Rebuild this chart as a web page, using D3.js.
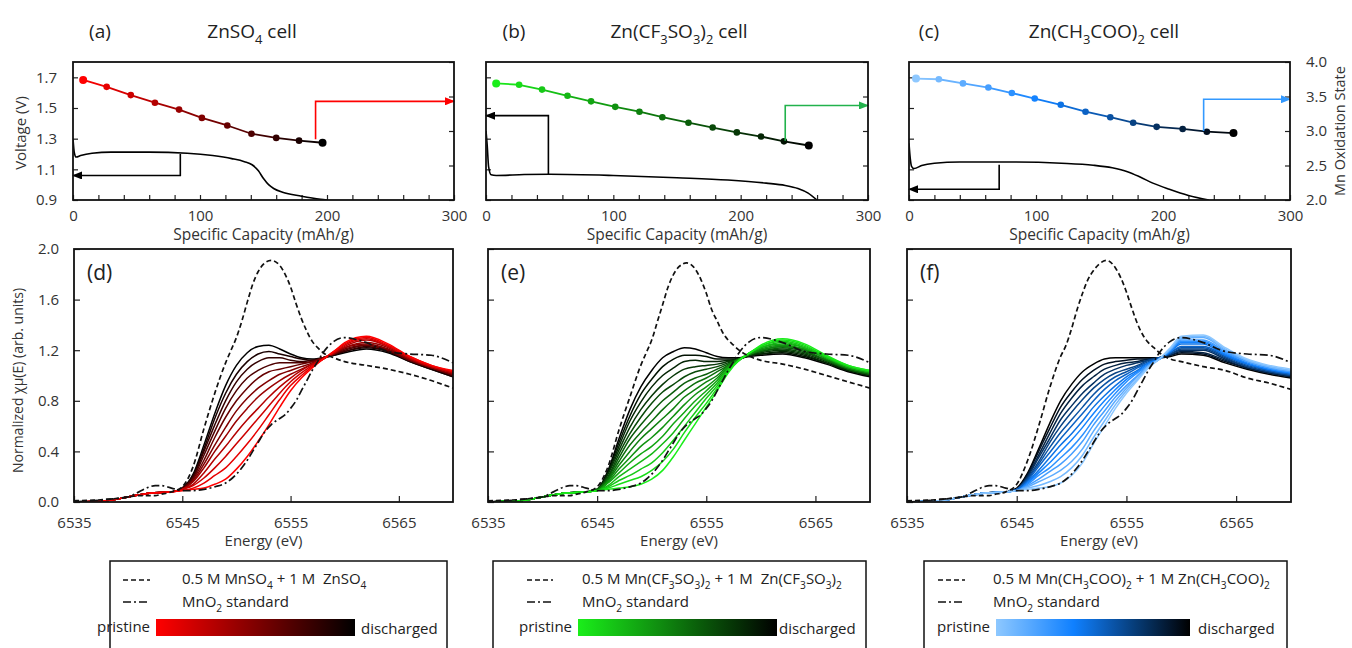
<!DOCTYPE html>
<html>
<head>
<meta charset="utf-8">
<script src="https://cdn.jsdelivr.net/npm/d3@7"></script>
<style>
body{margin:0;background:#fff;}
svg{display:block;}
text{white-space:pre;}
</style>
</head>
<body>
<svg id="fig" width="1352" height="648"></svg>
<script>
// ---- discharge profiles (capacity mAh/g, voltage V) ----
var capA  = [0, 1, 2.5, 6, 15, 30, 60, 90, 110, 125, 135, 141, 146, 150, 154, 158, 165, 180, 195, 200];
var voltA = [1.30, 1.21, 1.18, 1.19, 1.205, 1.212, 1.212, 1.205, 1.19, 1.17, 1.15, 1.13, 1.09, 1.04, 1.0, 0.975, 0.95, 0.925, 0.905, 0.9];
var capB  = [0, 1, 2, 4, 8, 30, 50, 100, 150, 190, 220, 235, 245, 253, 260];
var voltB = [1.35, 1.25, 1.12, 1.065, 1.06, 1.066, 1.068, 1.06, 1.045, 1.03, 1.01, 0.995, 0.975, 0.945, 0.9];
var capC  = [0, 1, 2, 4, 10, 20, 40, 80, 120, 145, 160, 172, 182, 192, 205, 220, 236];
var voltC = [1.27, 1.17, 1.12, 1.105, 1.125, 1.14, 1.148, 1.148, 1.14, 1.127, 1.11, 1.085, 1.05, 1.01, 0.97, 0.93, 0.9];

// ---- Mn oxidation state along discharge ----
var oxCapA = [8, 26.5, 45.5, 64.5, 83.5, 101.5, 121.5, 140.5, 160, 178, 196.5];
var oxA    = [3.74, 3.64, 3.52, 3.41, 3.31, 3.19, 3.08, 2.96, 2.90, 2.86, 2.83];
var oxCapB = [8, 26, 44, 64, 82.5, 101.5, 120.5, 138.5, 159, 178, 197, 216, 234, 253.5];
var oxB    = [3.69, 3.67, 3.60, 3.51, 3.43, 3.35, 3.28, 3.20, 3.12, 3.05, 2.98, 2.92, 2.85, 2.79];
var oxCapC = [5.5, 23.5, 42.5, 62.5, 81, 99, 119.5, 139, 158.5, 176.5, 195, 215.5, 234.5, 255.5];
var oxC    = [3.76, 3.75, 3.69, 3.63, 3.55, 3.47, 3.38, 3.28, 3.20, 3.12, 3.06, 3.03, 2.99, 2.97];

// ---- axis-pointing arrows [capacity, value] ----
var arrowVoltA = [[84.5, 1.20], [84.5, 1.06], [0, 1.06]];
var arrowOxA   = [[191, 2.88], [191, 3.43], [300, 3.43]];
var arrowVoltB = [[49, 1.07], [49, 1.45], [0, 1.45]];
var arrowOxB   = [[235, 2.86], [235, 3.37], [300, 3.37]];
var arrowVoltC = [[71, 1.13], [71, 0.97], [0, 0.97]];
var arrowOxC   = [[232, 3.0], [232, 3.46], [300, 3.46]];

// ---- XANES reference spectra ----
var refEnergy = [6535, 6538, 6540, 6541, 6542, 6542.5, 6543, 6544, 6545, 6546, 6547, 6548, 6549, 6549.5, 6550, 6550.5, 6551, 6551.5, 6552, 6552.5, 6553.2, 6554, 6554.5, 6555, 6555.5, 6556, 6556.5, 6557, 6557.5, 6558, 6559, 6560, 6562, 6564, 6566, 6568, 6570];
var mnso4Sol = [.01,.02,.04,.05,.05,.05,.06,.08,.12,.28,.58,.86,1.10,1.20,1.30,1.43,1.58,1.72,1.82,1.88,1.91,1.87,1.80,1.70,1.57,1.45,1.35,1.27,1.22,1.18,1.14,1.11,1.08,1.05,1.01,0.96,0.90];
var mnCfSol  = [.01,.02,.04,.05,.05,.05,.06,.08,.12,.28,.57,.83,1.08,1.18,1.28,1.42,1.56,1.70,1.80,1.86,1.89,1.84,1.76,1.65,1.52,1.43,1.34,1.28,1.24,1.20,1.15,1.12,1.09,1.05,1.00,0.95,0.90];
var mnAcSol  = [.01,.02,.04,.05,.05,.05,.06,.08,.14,.33,.60,.90,1.15,1.24,1.37,1.52,1.65,1.76,1.83,1.88,1.91,1.85,1.77,1.66,1.53,1.41,1.32,1.26,1.22,1.18,1.13,1.11,1.07,1.04,0.98,0.94,0.89];
var mno2Std  = [.00,.02,.04,.08,.12,.13,.13,.11,.09,.09,.10,.12,.15,.18,.22,.27,.33,.40,.47,.54,.61,.66,.69,.74,.80,.88,.96,1.04,1.11,1.18,1.27,1.30,1.26,1.19,1.17,1.16,1.10];

// ---- operando XANES spectra, pristine first ----
var specEnergy = [6535, 6538, 6540, 6542, 6544, 6545, 6546, 6547, 6548, 6549, 6550, 6551, 6552, 6553, 6554, 6555, 6556, 6557, 6558, 6559, 6560, 6562, 6564, 6566, 6568, 6570];
var znso4Spectra = [
  [0,.01,.04,.07,.08,.09,.10,.11,.14,.18,.26,.36,.48,.61,.75,.88,.98,1.06,1.13,1.19,1.26,1.31,1.25,1.15,1.08,1.04],
  [0,.01,.04,.07,.08,.09,.11,.15,.21,.27,.36,.46,.57,.69,.81,.92,1.00,1.07,1.13,1.19,1.25,1.30,1.24,1.15,1.08,1.03],
  [0,.01,.04,.07,.08,.10,.13,.19,.27,.36,.46,.56,.66,.76,.86,.95,1.02,1.08,1.13,1.18,1.24,1.29,1.23,1.14,1.07,1.03],
  [0,.01,.04,.07,.08,.10,.14,.23,.34,.44,.55,.65,.74,.83,.91,.98,1.04,1.09,1.13,1.18,1.23,1.28,1.23,1.14,1.07,1.02],
  [0,.01,.04,.07,.08,.10,.16,.27,.40,.52,.64,.74,.83,.90,.96,1.01,1.05,1.09,1.13,1.18,1.22,1.26,1.22,1.13,1.07,1.02],
  [0,.01,.04,.07,.08,.10,.17,.30,.45,.59,.72,.82,.90,.96,1.01,1.04,1.07,1.10,1.14,1.17,1.22,1.25,1.21,1.13,1.06,1.01],
  [0,.01,.04,.07,.08,.10,.18,.33,.51,.67,.80,.90,.98,1.03,1.05,1.07,1.09,1.11,1.14,1.17,1.21,1.24,1.20,1.12,1.06,1.01],
  [0,.01,.04,.07,.08,.11,.19,.37,.56,.74,.88,.98,1.04,1.08,1.10,1.10,1.10,1.11,1.14,1.17,1.20,1.24,1.20,1.12,1.06,1.00],
  [0,.01,.04,.07,.08,.11,.20,.40,.61,.80,.95,1.05,1.11,1.14,1.14,1.12,1.11,1.12,1.14,1.17,1.19,1.23,1.19,1.12,1.06,1.00],
  [0,.01,.04,.07,.08,.11,.21,.42,.66,.86,1.01,1.11,1.17,1.19,1.17,1.15,1.13,1.12,1.14,1.16,1.19,1.22,1.19,1.11,1.05,0.99],
  [0,.01,.04,.07,.08,.11,.22,.45,.70,.92,1.08,1.18,1.23,1.24,1.21,1.17,1.14,1.13,1.14,1.16,1.18,1.21,1.18,1.11,1.05,0.99]
];
var zncfSpectra = [
  [0,.01,.04,.07,.08,.09,.10,.11,.12,.14,.18,.25,.36,.49,.62,.75,.88,1.02,1.12,1.18,1.24,1.29,1.25,1.16,1.08,1.04],
  [0,.01,.04,.07,.08,.09,.11,.14,.17,.20,.25,.32,.42,.55,.67,.78,.90,1.03,1.12,1.18,1.23,1.28,1.24,1.15,1.08,1.04],
  [0,.01,.04,.07,.08,.09,.12,.17,.21,.26,.31,.39,.49,.60,.71,.82,.92,1.04,1.12,1.18,1.23,1.27,1.23,1.15,1.07,1.03],
  [0,.01,.04,.07,.08,.09,.13,.20,.26,.32,.38,.46,.55,.66,.76,.85,.94,1.05,1.12,1.18,1.22,1.26,1.22,1.14,1.07,1.03],
  [0,.01,.04,.07,.08,.09,.15,.23,.31,.38,.44,.52,.62,.71,.80,.88,.96,1.06,1.12,1.18,1.22,1.25,1.22,1.14,1.07,1.03],
  [0,.01,.04,.07,.08,.09,.16,.26,.35,.44,.51,.59,.68,.77,.85,.91,.98,1.07,1.13,1.17,1.21,1.24,1.21,1.14,1.06,1.02],
  [0,.01,.04,.07,.08,.09,.17,.29,.40,.50,.58,.66,.74,.83,.89,.95,1.00,1.08,1.13,1.17,1.20,1.23,1.21,1.13,1.06,1.02],
  [0,.01,.04,.07,.08,.10,.18,.32,.45,.55,.64,.73,.81,.88,.94,.98,1.03,1.08,1.13,1.17,1.20,1.23,1.20,1.12,1.06,1.02],
  [0,.01,.04,.07,.08,.10,.19,.35,.50,.61,.71,.80,.87,.94,.98,1.01,1.05,1.09,1.13,1.17,1.19,1.22,1.19,1.12,1.05,1.01],
  [0,.01,.04,.07,.08,.10,.20,.38,.54,.67,.78,.87,.93,.99,1.03,1.05,1.07,1.10,1.13,1.16,1.19,1.21,1.18,1.12,1.05,1.01],
  [0,.01,.04,.07,.08,.10,.22,.41,.59,.73,.84,.93,1.00,1.05,1.07,1.08,1.09,1.11,1.13,1.16,1.18,1.20,1.17,1.11,1.05,1.01],
  [0,.01,.04,.07,.08,.10,.23,.44,.64,.79,.91,1.00,1.06,1.11,1.12,1.11,1.11,1.12,1.13,1.16,1.17,1.19,1.16,1.10,1.04,1.00],
  [0,.01,.04,.07,.08,.10,.24,.47,.68,.85,.97,1.07,1.13,1.16,1.16,1.15,1.13,1.13,1.13,1.16,1.17,1.18,1.15,1.10,1.04,1.00],
  [0,.01,.04,.07,.08,.10,.25,.50,.73,.91,1.04,1.14,1.19,1.22,1.21,1.18,1.15,1.14,1.14,1.15,1.16,1.17,1.14,1.09,1.03,0.99]
];
var znacSpectra = [
  [0,.01,.04,.07,.08,.09,.10,.11,.12,.15,.21,.31,.46,.60,.74,.86,.96,1.06,1.13,1.22,1.31,1.32,1.22,1.13,1.08,1.05],
  [0,.01,.04,.07,.08,.09,.11,.13,.16,.20,.27,.37,.51,.64,.77,.88,.97,1.07,1.13,1.21,1.30,1.31,1.21,1.12,1.07,1.04],
  [0,.01,.04,.07,.08,.09,.12,.16,.20,.25,.32,.42,.56,.68,.80,.90,.99,1.07,1.13,1.21,1.29,1.30,1.20,1.12,1.07,1.04],
  [0,.01,.04,.07,.08,.09,.13,.18,.24,.30,.38,.48,.61,.72,.83,.92,1.00,1.08,1.13,1.20,1.28,1.28,1.19,1.11,1.06,1.03],
  [0,.01,.04,.07,.08,.09,.14,.21,.27,.35,.43,.53,.65,.76,.86,.95,1.02,1.08,1.13,1.20,1.27,1.27,1.18,1.11,1.06,1.03],
  [0,.01,.04,.07,.08,.09,.15,.23,.31,.40,.49,.59,.70,.80,.89,.97,1.03,1.09,1.13,1.19,1.26,1.26,1.17,1.10,1.05,1.02],
  [0,.01,.04,.07,.08,.09,.16,.25,.35,.45,.54,.64,.75,.84,.92,.99,1.04,1.10,1.13,1.19,1.25,1.25,1.16,1.09,1.05,1.02],
  [0,.01,.04,.07,.08,.10,.17,.28,.39,.50,.60,.70,.80,.89,.96,1.01,1.06,1.10,1.14,1.18,1.23,1.23,1.16,1.09,1.04,1.01],
  [0,.01,.04,.07,.08,.10,.18,.30,.43,.55,.65,.75,.85,.93,.99,1.03,1.07,1.11,1.14,1.18,1.22,1.22,1.15,1.08,1.04,1.01],
  [0,.01,.04,.07,.08,.10,.19,.32,.47,.60,.71,.81,.90,.97,1.02,1.05,1.08,1.12,1.14,1.17,1.21,1.21,1.14,1.07,1.03,1.00],
  [0,.01,.04,.07,.08,.10,.20,.35,.50,.65,.76,.86,.94,1.01,1.05,1.08,1.10,1.12,1.14,1.17,1.20,1.20,1.13,1.07,1.03,1.00],
  [0,.01,.04,.07,.08,.10,.21,.37,.54,.70,.82,.92,.99,1.05,1.08,1.10,1.11,1.13,1.14,1.16,1.19,1.18,1.12,1.06,1.02,0.99],
  [0,.01,.04,.07,.08,.10,.22,.40,.58,.75,.87,.97,1.04,1.09,1.11,1.12,1.13,1.13,1.14,1.16,1.18,1.17,1.11,1.06,1.02,0.99],
  [0,.01,.04,.07,.08,.11,.23,.42,.62,.80,.93,1.03,1.09,1.13,1.14,1.14,1.14,1.14,1.14,1.15,1.17,1.16,1.10,1.05,1.01,0.98]
];

// ---- tick values ----
var capTicks = [0, 100, 200, 300];
var capMinorTicks = [0, 20, 40, 60, 80, 100, 120, 140, 160, 180, 200, 220, 240, 260, 280, 300];
var voltTicks = [0.9, 1.1, 1.3, 1.5, 1.7];
var oxTicks = [2.0, 2.5, 3.0, 3.5, 4.0];
var energyTicks = [6535, 6545, 6555, 6565];
var muTicks = [0, 0.4, 0.8, 1.2, 1.6, 2.0];

var FONT = "'Open Sans', 'Noto Sans', sans-serif";
var TXT = "#333";

var redScale = d3.scaleLinear().domain([0, 1]).range(["#ff0000", "#000000"]);
var greenScale = d3.scaleLinear().domain([0, 1]).range(["#1aee1a", "#000000"]);
var blueScale = d3.scaleLinear().domain([0, 0.4, 1]).range(["#8ec8ff", "#0f80ff", "#000000"]);

var svg = d3.select("#fig").attr("font-family", FONT);
var defs = svg.append("defs");

// text with _{..} subscripts
function richText(sel, str, size) {
  var parts = str.split(/(_\{[^}]*\})/);
  var sub = false;
  parts.forEach(function (p) {
    if (!p) return;
    if (p.charAt(0) === "_") {
      sel.append("tspan").attr("font-size", size * 0.68).attr("dy", size * 0.3).text(p.slice(2, -1));
      sub = true;
    } else {
      sel.append("tspan").attr("font-size", size).attr("dy", sub ? -size * 0.3 : 0).text(p);
      sub = false;
    }
  });
  return sel;
}

function styleAxis(a, size) {
  a.select(".domain").remove();
  a.selectAll("text").attr("font-size", size).attr("font-family", FONT).attr("fill", TXT);
  a.selectAll("line").attr("stroke", "#222").attr("stroke-width", 1.2);
}

function arrowMarker(id, color) {
  defs.append("marker").attr("id", id)
    .attr("viewBox", "0 0 10 10").attr("refX", 9).attr("refY", 5)
    .attr("markerWidth", 10).attr("markerHeight", 8)
    .attr("markerUnits", "userSpaceOnUse").attr("orient", "auto")
    .attr("preserveAspectRatio", "none")
    .append("path").attr("d", "M0,0L10,5L0,10z").attr("fill", color);
}

function clip(id, p) {
  defs.append("clipPath").attr("id", id).append("rect")
    .attr("x", p.x0).attr("y", p.y0).attr("width", p.x1 - p.x0).attr("height", p.y1 - p.y0);
}

function drawTop(p) {
  var g = svg.append("g");
  var x = d3.scaleLinear().domain([0, 300]).range([p.x0, p.x1]);
  var yV = d3.scaleLinear().domain([0.9, 1.8]).range([p.y1, p.y0]);
  var yOx = d3.scaleLinear().domain([2, 4]).range([p.y1, p.y0]);
  clip("clip" + p.id, p);

  // inward ticks
  styleAxis(g.append("g").attr("transform", "translate(0," + p.y1 + ")")
    .call(d3.axisTop(x).tickValues(capMinorTicks).tickSize(5).tickFormat("")), 15);
  styleAxis(g.append("g").attr("transform", "translate(" + p.x0 + ",0)")
    .call(d3.axisRight(yV).tickValues(voltTicks).tickSize(5).tickFormat("")), 15);
  styleAxis(g.append("g").attr("transform", "translate(" + p.x1 + ",0)")
    .call(d3.axisLeft(yOx).tickValues(oxTicks).tickSize(5).tickFormat("")), 15);

  // labels
  styleAxis(g.append("g").attr("transform", "translate(0," + p.y1 + ")")
    .call(d3.axisBottom(x).tickValues(capTicks).tickSize(0).tickPadding(10)), 15);
  if (p.leftLabels) {
    styleAxis(g.append("g").attr("transform", "translate(" + p.x0 + ",0)")
      .call(d3.axisLeft(yV).tickValues(voltTicks).tickSize(0).tickPadding(16).tickFormat(d3.format(".1f"))), 15);
    g.append("text").attr("transform", "translate(26," + ((p.y0 + p.y1) / 2 + 2) + ") rotate(-90)")
      .attr("text-anchor", "middle").attr("font-size", 15).attr("fill", TXT).text("Voltage (V)");
  }
  if (p.rightLabels) {
    styleAxis(g.append("g").attr("transform", "translate(" + p.x1 + ",0)")
      .call(d3.axisRight(yOx).tickValues(oxTicks).tickSize(0).tickPadding(16).tickFormat(d3.format(".1f"))), 15);
    g.append("text").attr("transform", "translate(1345," + ((p.y0 + p.y1) / 2) + ") rotate(-90)")
      .attr("text-anchor", "middle").attr("font-size", 14.5).attr("fill", TXT).text("Mn Oxidation State");
  }
  g.append("text").attr("x", (p.x0 + p.x1) / 2).attr("y", 240).attr("text-anchor", "middle")
    .attr("font-size", 15.5).attr("fill", TXT).text("Specific Capacity (mAh/g)");

  // titles
  g.append("text").attr("x", p.tagX).attr("y", 38).attr("text-anchor", "middle")
    .attr("font-size", 19).attr("fill", "#222").text(p.tag);
  richText(g.append("text").attr("x", p.titleX).attr("y", 38).attr("text-anchor", "middle")
    .attr("fill", "#222"), p.title, 19);

  // voltage curve
  var vData = p.cap.map(function (c, i) { return [c, p.volt[i]]; });
  g.append("path").attr("clip-path", "url(#clip" + p.id + ")")
    .attr("d", d3.line().x(function (d) { return x(d[0]); }).y(function (d) { return yV(d[1]); })
      .curve(d3.curveMonotoneX)(vData))
    .attr("fill", "none").attr("stroke", "#000").attr("stroke-width", 1.6);

  // oxidation state
  var n = p.ox.length;
  var oData = p.oxCap.map(function (c, i) { return [c, p.ox[i]]; });
  g.selectAll(".seg").data(oData.slice(1)).enter().append("line")
    .attr("x1", function (d, i) { return x(oData[i][0]); })
    .attr("y1", function (d, i) { return yOx(oData[i][1]); })
    .attr("x2", function (d) { return x(d[0]); })
    .attr("y2", function (d) { return yOx(d[1]); })
    .attr("stroke", function (d, i) { return p.color((i + 0.5) / (n - 1)); })
    .attr("stroke-width", 1.8);
  g.selectAll(".pt").data(oData).enter().append("circle")
    .attr("cx", function (d) { return x(d[0]); })
    .attr("cy", function (d) { return yOx(d[1]); })
    .attr("r", function (d, i) { return i === 0 || i === n - 1 ? 4 : 3.3; })
    .attr("fill", function (d, i) { return p.color(i / (n - 1)); });

  // arrows
  arrowMarker("arrK" + p.id, "#000");
  arrowMarker("arrC" + p.id, p.arrowColor);
  g.append("path")
    .attr("d", d3.line().x(function (d) { return x(d[0]); }).y(function (d) { return yV(d[1]); })(p.vArrow))
    .attr("fill", "none").attr("stroke", "#000").attr("stroke-width", 1.6)
    .attr("marker-end", "url(#arrK" + p.id + ")");
  g.append("path")
    .attr("d", d3.line().x(function (d) { return x(d[0]); }).y(function (d) { return yOx(d[1]); })(p.oArrow))
    .attr("fill", "none").attr("stroke", p.arrowColor).attr("stroke-width", 1.6)
    .attr("marker-end", "url(#arrC" + p.id + ")");

  g.append("rect").attr("x", p.x0).attr("y", p.y0).attr("width", p.x1 - p.x0).attr("height", p.y1 - p.y0)
    .attr("fill", "none").attr("stroke", "#111").attr("stroke-width", 1.8);
}

function drawXanes(p) {
  var g = svg.append("g");
  var x = d3.scaleLinear().domain([6535, 6570]).range([p.x0, p.x1]);
  var y = d3.scaleLinear().domain([0, 2]).range([p.y1, p.y0]);
  clip("clip" + p.id, p);

  styleAxis(g.append("g").attr("transform", "translate(0," + p.y1 + ")")
    .call(d3.axisTop(x).tickValues(energyTicks).tickSize(6).tickFormat("")), 15);
  styleAxis(g.append("g").attr("transform", "translate(" + p.x0 + ",0)")
    .call(d3.axisRight(y).tickValues(muTicks).tickSize(6).tickFormat("")), 15);
  styleAxis(g.append("g").attr("transform", "translate(0," + p.y1 + ")")
    .call(d3.axisBottom(x).tickValues(energyTicks).tickSize(0).tickPadding(15).tickFormat(d3.format("d"))), 15);
  if (p.leftLabels) {
    styleAxis(g.append("g").attr("transform", "translate(" + p.x0 + ",0)")
      .call(d3.axisLeft(y).tickValues(muTicks).tickSize(0).tickPadding(15).tickFormat(d3.format(".1f"))), 15);
    g.append("text").attr("transform", "translate(23," + ((p.y0 + p.y1) / 2 + 5) + ") rotate(-90)")
      .attr("text-anchor", "middle").attr("font-size", 14).attr("fill", TXT).text("Normalized \u03c7\u03bc(E) (arb. units)");
  }
  g.append("text").attr("x", (p.x0 + p.x1) / 2).attr("y", 546).attr("text-anchor", "middle")
    .attr("font-size", 15).attr("fill", TXT).text("Energy (eV)");

  var cg = g.append("g").attr("clip-path", "url(#clip" + p.id + ")");
  var line = d3.line().curve(d3.curveMonotoneX);
  var n = p.spectra.length;
  for (var k = n - 1; k >= 0; k--) {
    var pts = specEnergy.map(function (e, i) { return [x(e), y(p.spectra[k][i])]; });
    cg.append("path").attr("d", line(pts)).attr("fill", "none")
      .attr("stroke", p.color(k / (n - 1))).attr("stroke-width", 1.5);
  }
  cg.append("path").attr("d", line(refEnergy.map(function (e, i) { return [x(e), y(p.sol[i])]; })))
    .attr("fill", "none").attr("stroke", "#111").attr("stroke-width", 1.7).attr("stroke-dasharray", "5,3");
  cg.append("path").attr("d", line(refEnergy.map(function (e, i) { return [x(e), y(mno2Std[i])]; })))
    .attr("fill", "none").attr("stroke", "#111").attr("stroke-width", 1.7).attr("stroke-dasharray", "8,3,2,3");

  g.append("text").attr("x", p.x0 + 13).attr("y", 280).attr("font-size", 21).attr("fill", "#222").text(p.tag);
  g.append("rect").attr("x", p.x0).attr("y", p.y0).attr("width", p.x1 - p.x0).attr("height", p.y1 - p.y0)
    .attr("fill", "none").attr("stroke", "#111").attr("stroke-width", 1.8);
}

function drawLegend(p) {
  var g = svg.append("g");
  var fs = 15;
  g.append("rect").attr("x", p.bx0).attr("y", 561).attr("width", p.bx1 - p.bx0).attr("height", 110)
    .attr("fill", "#fff").attr("stroke", "#111").attr("stroke-width", 1.5);
  g.append("line").attr("x1", p.dx0).attr("x2", p.dx1).attr("y1", 580).attr("y2", 580)
    .attr("stroke", "#111").attr("stroke-width", 1.7).attr("stroke-dasharray", "5,3");
  g.append("line").attr("x1", p.dx0).attr("x2", p.dx1).attr("y1", 602).attr("y2", 602)
    .attr("stroke", "#111").attr("stroke-width", 1.7).attr("stroke-dasharray", "8,3,2,3");
  richText(g.append("text").attr("x", p.tx).attr("y", 584).attr("fill", "#222"), p.solLabel, fs);
  richText(g.append("text").attr("x", p.tx).attr("y", 607).attr("fill", "#222"), "MnO_{2} standard", fs);

  var gid = "grad" + p.id;
  var grad = defs.append("linearGradient").attr("id", gid);
  d3.range(0, 1.0001, 0.1).forEach(function (t) {
    grad.append("stop").attr("offset", t).attr("stop-color", p.color(t));
  });
  g.append("rect").attr("x", p.gx0).attr("y", 619).attr("width", p.gx1 - p.gx0).attr("height", 17)
    .attr("fill", "url(#" + gid + ")");
  g.append("text").attr("x", p.gx0 - 6).attr("y", 632).attr("text-anchor", "end")
    .attr("font-size", fs).attr("fill", "#222").text("pristine");
  g.append("text").attr("x", p.gx1 + p.dGap).attr("y", 634)
    .attr("font-size", fs).attr("fill", "#222").text("discharged");
}

drawTop({id: "a", x0: 73, x1: 454, y0: 62, y1: 200, tag: "(a)", tagX: 100, title: "ZnSO_{4} cell", titleX: 252,
  cap: capA, volt: voltA, oxCap: oxCapA, ox: oxA, color: redScale, arrowColor: "#ff0000",
  vArrow: arrowVoltA, oArrow: arrowOxA, leftLabels: true, rightLabels: false});
drawTop({id: "b", x0: 486, x1: 868, y0: 62, y1: 200, tag: "(b)", tagX: 514, title: "Zn(CF_{3}SO_{3})_{2} cell", titleX: 679,
  cap: capB, volt: voltB, oxCap: oxCapB, ox: oxB, color: greenScale, arrowColor: "#22b24c",
  vArrow: arrowVoltB, oArrow: arrowOxB, leftLabels: false, rightLabels: false});
drawTop({id: "c", x0: 909, x1: 1290, y0: 62, y1: 200, tag: "(c)", tagX: 929, title: "Zn(CH_{3}COO)_{2} cell", titleX: 1104,
  cap: capC, volt: voltC, oxCap: oxCapC, ox: oxC, color: blueScale, arrowColor: "#3399ff",
  vArrow: arrowVoltC, oArrow: arrowOxC, leftLabels: false, rightLabels: true});

drawXanes({id: "d", x0: 74, x1: 453, y0: 249, y1: 502, tag: "(d)", spectra: znso4Spectra, sol: mnso4Sol, color: redScale, leftLabels: true});
drawXanes({id: "e", x0: 488, x1: 870, y0: 249, y1: 502, tag: "(e)", spectra: zncfSpectra, sol: mnCfSol, color: greenScale, leftLabels: false});
drawXanes({id: "f", x0: 907, x1: 1291, y0: 249, y1: 502, tag: "(f)", spectra: znacSpectra, sol: mnAcSol, color: blueScale, leftLabels: false});

drawLegend({id: "d", bx0: 110, bx1: 447, dx0: 123, dx1: 150, tx: 182, gx0: 156, gx1: 355, dGap: 6,
  solLabel: "0.5 M MnSO_{4} + 1 M  ZnSO_{4}", color: redScale});
drawLegend({id: "e", bx0: 493, bx1: 866, dx0: 527, dx1: 553, tx: 582, gx0: 578, gx1: 777, dGap: 2,
  solLabel: "0.5 M Mn(CF_{3}SO_{3})_{2} + 1 M  Zn(CF_{3}SO_{3})_{2}", color: greenScale});
drawLegend({id: "f", bx0: 924, bx1: 1287, dx0: 938, dx1: 965, tx: 993, gx0: 996, gx1: 1190, dGap: 8,
  solLabel: "0.5 M Mn(CH_{3}COO)_{2} + 1 M Zn(CH_{3}COO)_{2}", color: blueScale});
</script>
</body>
</html>
